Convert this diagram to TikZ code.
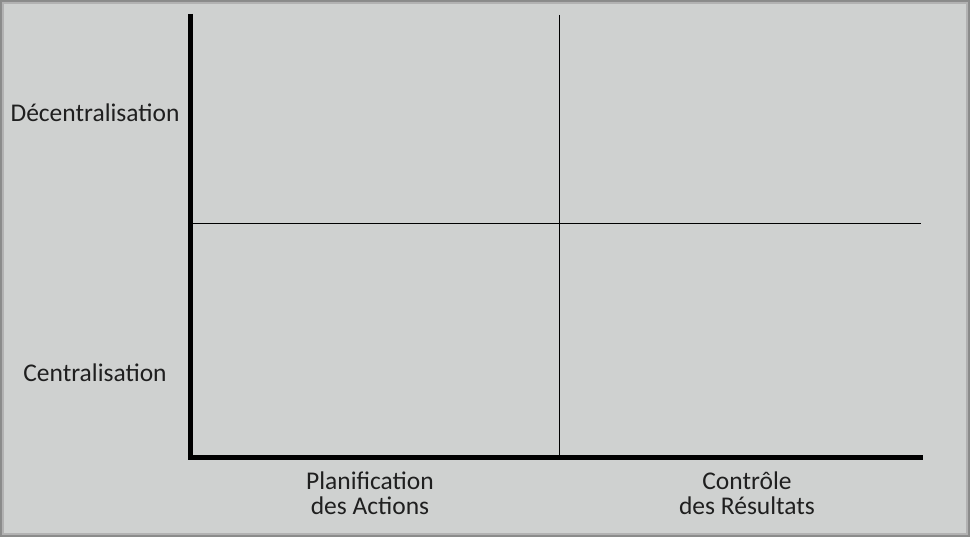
\documentclass[tikz,border=0pt]{standalone}
\usepackage{fontspec}
\setmainfont{Carlito}
\definecolor{bg}{HTML}{CFD1D0}
\definecolor{edge}{HTML}{8A8B8A}
\begin{document}
\begin{tikzpicture}[x=1pt,y=-1pt,
  lbl/.style={font=\fontsize{25.5}{25}\selectfont, text=black!88, align=center, inner sep=0pt},
  thickaxis/.style={line width=5pt},
  thinline/.style={line width=1pt}]
\useasboundingbox (0,0) rectangle (970,537);
\fill[edge] (0,0) rectangle (970,537);
\fill[black!45] (1,1) rectangle (969,536);
\fill[black!30] (2,2) rectangle (968,535);
\fill[bg] (4,4) rectangle (966,533);
% axes
\coordinate (ytop) at (190.5,14);
\coordinate (orig) at (190.5,457);
\coordinate (xend) at (923,457);
\draw[thickaxis] (ytop) -- (orig) -- (xend);
\coordinate (vtop) at (559.5,15);
\coordinate (vbot) at (559.5,455);
\draw[thinline] (vtop) -- (vbot);
\coordinate (hl) at (193,223.5);
\coordinate (hr) at (921,223.5);
\draw[thinline] (hl) -- (hr);
% labels
\node[lbl] (dec) at (95,113) {Décentralisation};
\node[lbl] (cen) at (95,373) {Centralisation};
\node[lbl] (plan) at (370,493) {Planification\\des Actions};
\node[lbl] (ctrl) at (747,493) {Contrôle\\des Résultats};
\end{tikzpicture}
\end{document}
